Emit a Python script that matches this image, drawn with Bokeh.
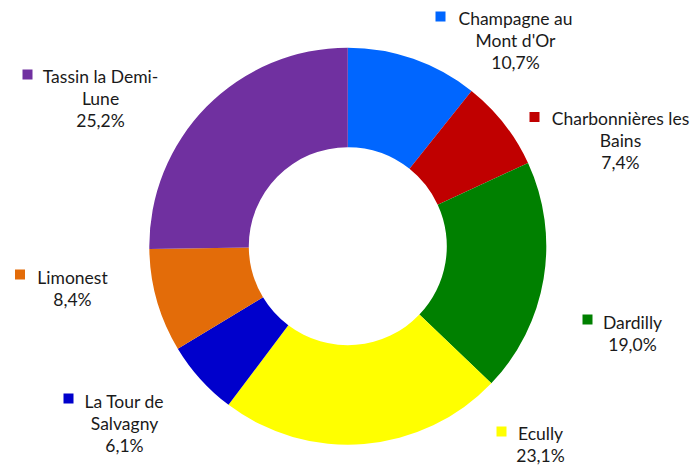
import math
import numpy as np
import pandas as pd
from bokeh.plotting import figure
from bokeh.models import Range1d, ColumnDataSource
from bokeh.core.properties import value
from bokeh.embed import file_html
from bokeh.resources import INLINE

# ---- data ----
communes = ["Champagne au Mont d'Or", "Charbonnières les Bains", "Dardilly", "Ecully",
            "La Tour de Salvagny", "Limonest", "Tassin la Demi-Lune"]
shares = [10.7, 7.4, 19.0, 23.1, 6.1, 8.4, 25.2]
colors = ["#0066FF", "#C00000", "#008000", "#FFFF00", "#0000CC", "#E36C09", "#7030A0"]
label_lines = [["Champagne au", "Mont d'Or"], ["Charbonnières les", "Bains"], ["Dardilly"],
               ["Ecully"], ["La Tour de", "Salvagny"], ["Limonest"], ["Tassin la Demi-", "Lune"]]

# ---- layout (page pixel positions of label blocks) ----
W, H = 697, 466
def px(X):
    return X
def py(Y):
    return H - Y

center = (347.3, 245.7)
r_out, r_in = 198.5, 99.0
label_cx = [515, 620, 632, 540, 124, 72, 100]
label_y1 = [18, 118, 322, 433, 401, 277, 76]
square_c = [(440, 16), (534, 116.5), (587, 319), (501, 431), (68, 398), (19.5, 274), (27, 74)]
LINE = 22.0
FONT = "Lato"
FS = "17.5px"

total = sum(shares)
fr = np.array(shares) / total
cum = np.concatenate([[0], np.cumsum(fr)])
df = pd.DataFrame({
    "name": communes,
    "value": shares,
    "color": colors,
    "start": math.pi / 2 - 2 * math.pi * cum[:-1],
    "end": math.pi / 2 - 2 * math.pi * cum[1:],
})
src = ColumnDataSource(df)

p = figure(width=W, height=H, output_backend="svg", toolbar_location=None,
           x_range=Range1d(0, W), y_range=Range1d(0, H), min_border=0)
p.axis.visible = False
p.grid.visible = False
p.outline_line_color = None
p.background_fill_color = "white"
p.border_fill_color = "white"

p.annular_wedge(x=px(center[0]), y=py(center[1]), inner_radius=r_in, outer_radius=r_out,
                inner_radius_units="data", outer_radius_units="data",
                start_angle="start", end_angle="end", direction="clock",
                fill_color="color", line_color=None, source=src)

tx, ty, tt = [], [], []
for i, lines in enumerate(label_lines):
    all_lines = lines + [f"{shares[i]:.1f}".replace(".", ",") + "%"]
    for k, s in enumerate(all_lines):
        tx.append(px(label_cx[i]))
        ty.append(py(label_y1[i] + k * LINE))
        tt.append(s)
p.text(x=tx, y=ty, text=tt, text_align="center", text_baseline="middle",
       text_font=value(FONT), text_font_size=FS, text_color="#1a1a1a")

p.scatter(x=[px(c[0]) for c in square_c], y=[py(c[1]) for c in square_c], marker="square",
          size=10, fill_color=colors, line_color=None)

open("out.html", "w").write(file_html(p, INLINE))
